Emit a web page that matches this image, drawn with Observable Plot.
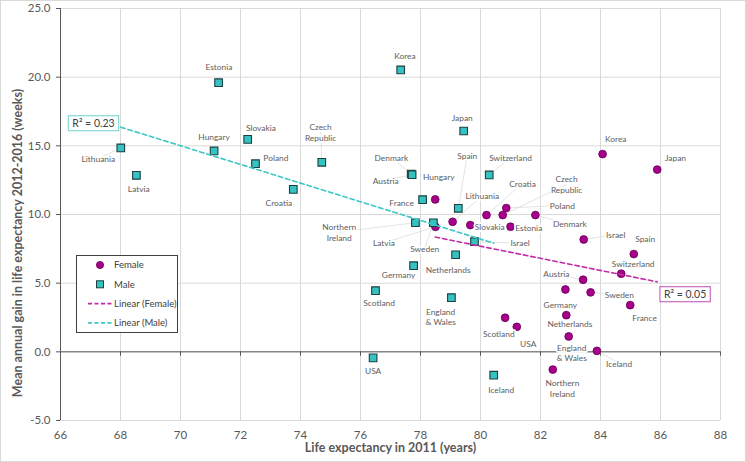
<!DOCTYPE html>
<html><head><meta charset="utf-8">
<script src="https://cdn.jsdelivr.net/npm/d3@7"></script>
<script src="https://cdn.jsdelivr.net/npm/@observablehq/plot@0.6"></script>
<style>
body{margin:0;background:#fff;font-family:Lato,"Open Sans",sans-serif;}
#wrap{position:relative;width:746px;height:462px;overflow:hidden;}
#frame{position:absolute;left:0;top:0;width:746px;height:462px;box-sizing:border-box;border:1px solid #d9d9d9;pointer-events:none;}
#legend{position:absolute;left:76px;top:255px;width:102px;height:78px;box-sizing:border-box;border:1px solid #404040;background:#fff;}
#legend svg{display:block;}
</style></head><body>
<div id="wrap"><div id="chart"></div><div id="legend"></div><div id="frame"></div></div>
<script>
// ---- data ----
const femaleCountry = ["Hungary","Latvia","Lithuania","Slovakia","Croatia","Czech Republic","Poland","Estonia","Denmark","Scotland","USA","Northern Ireland","Germany","Netherlands","England & Wales","Austria","Israel","Sweden","Iceland","Korea","Switzerland","France","Spain","Japan"];
const femaleLE   = [78.49,78.5,79.07,79.66,80.2,80.74,80.86,81.0,81.83,80.82,81.21,82.41,82.83,82.86,82.94,83.42,83.44,83.67,83.88,84.07,84.69,84.99,85.11,85.89];
const femaleGain = [11.1,9.1,9.47,9.23,9.96,9.96,10.47,9.11,9.96,2.48,1.82,-1.29,4.54,2.67,1.12,5.25,8.18,4.33,0.07,14.4,5.69,3.4,7.12,13.27];

const maleCountry = ["Estonia","Lithuania","Latvia","Hungary","Slovakia","Poland","Croatia","Czech Republic","Korea","Japan","Switzerland","Denmark","Austria","France","Spain","Northern Ireland","Sweden","Israel","Netherlands","Germany","Scotland","England & Wales","USA","Iceland"];
const maleLE   = [71.27,68.01,68.53,71.12,72.24,72.5,73.76,74.71,77.34,79.44,80.29,77.69,77.72,78.07,79.26,77.83,78.43,79.8,79.17,77.77,76.5,79.03,76.42,80.44];
const maleGain = [19.6,14.85,12.85,14.63,15.47,13.7,11.83,13.8,20.53,16.08,12.88,12.95,12.9,11.08,10.45,9.4,9.4,8.02,7.07,6.27,4.45,3.94,-0.44,-1.7];

const xTicks = [66,68,70,72,74,76,78,80,82,84,86,88];
const yTicks = [-5,0,5,10,15,20,25];
const seriesNames = ["Female","Male"];
const trendNames = ["Linear (Female)","Linear (Male)"];
const r2Text = {Female: "R\u00b2 = 0.05", Male: "R\u00b2 = 0.23"};
const xTitle = "Life expectancy in 2011 (years)";
const yTitle = "Mean annual gain in life expectancy 2012-2016 (weeks)";

// ---- layout: where each data label sits (data units) ----
const labelAt = {
  "Male|Estonia":[71.28,20.8], "Male|Lithuania":[67.26,14.07], "Male|Latvia":[68.61,11.88],
  "Male|Hungary":[71.12,15.69], "Male|Slovakia":[72.68,16.33], "Male|Poland":[73.18,14.14],
  "Male|Croatia":[73.28,10.88], "Male|Czech Republic":[74.67,16.0], "Male|Korea":[77.48,21.6],
  "Male|Japan":[79.39,17.06], "Male|Denmark":[77.03,14.16], "Male|Austria":[76.84,12.49],
  "Male|Spain":[79.56,14.31], "Male|Switzerland":[81.0,14.14], "Male|France":[77.37,10.84],
  "Male|Northern Ireland":[75.29,8.72], "Male|Sweden":[78.14,7.53], "Male|Netherlands":[78.92,6.0],
  "Male|Germany":[77.27,5.59], "Male|Israel":[81.32,7.92], "Male|Scotland":[76.62,3.57],
  "Male|England & Wales":[78.67,2.57], "Male|USA":[76.42,-1.38], "Male|Iceland":[80.69,-2.75],
  "Female|Latvia":[76.78,7.94], "Female|Hungary":[78.61,12.75], "Female|Lithuania":[80.06,11.37],
  "Female|Croatia":[81.4,12.27], "Female|Slovakia":[80.31,9.11], "Female|Estonia":[81.61,9.02],
  "Female|Korea":[84.51,15.55], "Female|Japan":[86.5,14.12], "Female|Czech Republic":[82.87,12.2],
  "Female|Poland":[82.73,10.66], "Female|Denmark":[82.98,9.3], "Female|Israel":[84.51,8.55],
  "Female|Spain":[85.49,8.21], "Female|Switzerland":[85.09,6.41], "Female|Austria":[82.53,5.66],
  "Female|Sweden":[84.63,4.18], "Female|Germany":[82.66,3.47], "Female|France":[85.47,2.5],
  "Female|Netherlands":[82.98,2.04], "Female|England & Wales":[83.04,-0.06], "Female|Iceland":[84.62,-0.83],
  "Female|Northern Ireland":[82.73,-2.66], "Female|Scotland":[80.61,1.29], "Female|USA":[81.59,0.61]
};
const r2At = {Male:[67.1,16.6], Female:[86.82,4.15]};

const colors = {
  Female: {fill:"#A8008A", stroke:"#5e0050", trend:"#C42BA8", box:"#C86BC0"},
  Male:   {fill:"#35C2C2", stroke:"#1d3f3f", trend:"#3CC6C6", box:"#86D9D9"}
};

// ---- build tables ----
const female = femaleCountry.map((c,i)=>({series:"Female", country:c, x:femaleLE[i], y:femaleGain[i]}));
const male = maleCountry.map((c,i)=>({series:"Male", country:c, x:maleLE[i], y:maleGain[i]}));
const all = [...female, ...male];
const wrapName = s => s.replace(" & ", "\n& ").replace("Northern ", "Northern\n").replace("Czech ", "Czech\n");
const labels = all.map(d => {
  const p = labelAt[d.series + "|" + d.country];
  return {...d, lx: p[0], ly: p[1], text: wrapName(d.country)};
});
const xSpan = 88-66, ySpan = 30;
const leaders = labels.filter(d => Math.hypot((d.lx-d.x)/xSpan*660, (d.ly-d.y)/ySpan*412) > 24);
const r2 = seriesNames.map(s => ({series:s, x:r2At[s][0], y:r2At[s][1], text:r2Text[s]}));

const axisColor = "#595959";
const font = "Lato, 'Open Sans', sans-serif";
const plot = Plot.plot({
  width: 746, height: 462,
  marginLeft: 60, marginRight: 26, marginTop: 8, marginBottom: 42,
  style: {fontFamily: font, fontSize: "11px", color: axisColor, background: "white"},
  x: {domain: [66, 88]},
  y: {domain: [-5, 25]},
  marks: [
    Plot.gridX(xTicks, {stroke: "#d9d9d9", strokeOpacity: 1}),
    Plot.gridY(yTicks, {stroke: "#d9d9d9", strokeOpacity: 1}),
    Plot.ruleX([66], {stroke: axisColor}),
    Plot.ruleY([0], {stroke: axisColor}),
    Plot.ruleX(xTicks, {y1: 0, y2: -0.32, stroke: axisColor}),
    Plot.axisY({ticks: yTicks, tickSize: 4, tickPadding: 6, tickFormat: d => d.toFixed(1), label: null, fontSize: 11.5, stroke: axisColor}),
    Plot.axisX({ticks: xTicks, tickSize: 0, tickPadding: 10, tickFormat: d => String(d), label: null, fontSize: 11.5}),
    Plot.link(leaders, {x1: "lx", y1: "ly", x2: "x", y2: "y", stroke: "#dcdcdc", strokeWidth: 0.8}),
    Plot.dot(female, {x: "x", y: "y", r: 3.9, fill: colors.Female.fill, stroke: colors.Female.stroke, strokeWidth: 0.8}),
    Plot.dot(male, {x: "x", y: "y", r: 4.3, symbol: "square", fill: colors.Male.fill, stroke: colors.Male.stroke, strokeWidth: 1.1}),
    Plot.linearRegressionY(female, {x: "x", y: "y", ci: 0, stroke: colors.Female.trend, strokeWidth: 1.6, strokeDasharray: "4.5,3"}),
    Plot.linearRegressionY(male, {x: "x", y: "y", ci: 0, stroke: colors.Male.trend, strokeWidth: 1.6, strokeDasharray: "4.5,3"}),
    Plot.text(labels, {x: "lx", y: "ly", text: "text", fontSize: 8.4, fill: "#606060", stroke: "white", strokeWidth: 3.5, lineHeight: 1.25}),
    Plot.text(r2, {x: "x", y: "y", text: "text", fontSize: 10.5, fill: "#404040"}),
    Plot.text([xTitle], {frameAnchor: "bottom", dy: 31, fontSize: 12.5, fontWeight: "bold", fill: axisColor})
  ]
});
document.getElementById("chart").appendChild(plot);

const svgNS = "http://www.w3.org/2000/svg";
// boxes around the R² annotations (drawn in the text's own coordinate frame)
plot.querySelectorAll("text").forEach(t => {
  const s = t.textContent;
  const hit = r2.find(d => d.text === s);
  if (!hit) return;
  const b = t.getBBox();
  const rect = document.createElementNS(svgNS, "rect");
  const tr = t.getAttribute("transform");
  if (tr) rect.setAttribute("transform", tr);
  rect.setAttribute("x", b.x - 4); rect.setAttribute("y", b.y - 1.5);
  rect.setAttribute("width", b.width + 8); rect.setAttribute("height", b.height + 3);
  rect.setAttribute("fill", "white");
  rect.setAttribute("stroke", colors[hit.series].box);
  rect.setAttribute("stroke-width", 1.2);
  t.parentNode.insertBefore(rect, t);
});

// rotated y-axis title
const yt = document.createElementNS(svgNS, "text");
yt.setAttribute("transform", "translate(18,243) rotate(-90)");
yt.setAttribute("text-anchor", "middle");
yt.setAttribute("dy", "0.35em");
yt.setAttribute("font-size", "12.5");
yt.setAttribute("font-weight", "bold");
yt.setAttribute("font-family", font);
yt.setAttribute("fill", axisColor);
yt.textContent = yTitle;
plot.appendChild(yt);

// legend
const lg = d3.select("#legend").append("svg").attr("width", 100).attr("height", 76)
  .style("font-family", font).style("font-size", "9.5px");
const rows = [
  {name: seriesNames[0], kind: "circle", c: colors.Female},
  {name: seriesNames[1], kind: "square", c: colors.Male},
  {name: trendNames[0], kind: "line", c: colors.Female},
  {name: trendNames[1], kind: "line", c: colors.Male}
];
rows.forEach((r, i) => {
  const y = 9 + i * 19.3;
  if (r.kind === "circle") lg.append("circle").attr("cx", 23).attr("cy", y).attr("r", 3.6).attr("fill", r.c.fill).attr("stroke", r.c.stroke).attr("stroke-width", 0.8);
  else if (r.kind === "square") lg.append("rect").attr("x", 19.5).attr("y", y - 3.5).attr("width", 7).attr("height", 7).attr("fill", r.c.fill).attr("stroke", r.c.stroke).attr("stroke-width", 1);
  else lg.append("line").attr("x1", 11).attr("x2", 36).attr("y1", y).attr("y2", y).attr("stroke", r.c.trend).attr("stroke-width", 1.6).attr("stroke-dasharray", "4,2.5");
  lg.append("text").attr("x", 37).attr("y", y).attr("dy", "0.35em").attr("fill", "#404040").text(r.name);
});
</script>
</body></html>
